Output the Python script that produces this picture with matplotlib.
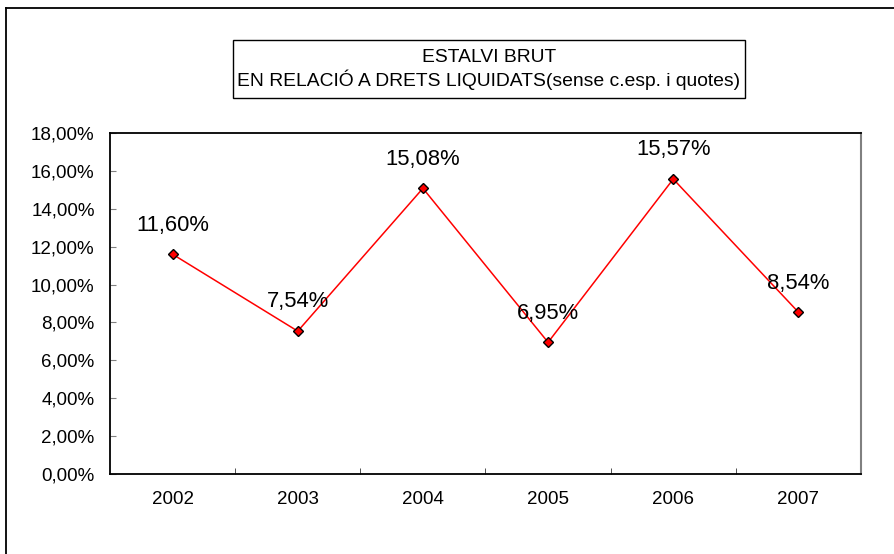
import matplotlib.pyplot as plt
from matplotlib.patches import Rectangle
from matplotlib.lines import Line2D
from matplotlib.ticker import FixedLocator, FuncFormatter

plt.rcParams['font.family'] = ['Liberation Sans', 'DejaVu Sans']

years = ['2002', '2003', '2004', '2005', '2006', '2007']
estalvi = [11.60, 7.54, 15.08, 6.95, 15.57, 8.54]
labels = ['11,60%', '7,54%', '15,08%', '6,95%', '15,57%', '8,54%']
y_ticks = [0, 2, 4, 6, 8, 10, 12, 14, 16, 18]

W, H = 895, 554
fig = plt.figure(figsize=(W / 100, H / 100), dpi=100)

# outer chart frame (cut off on the right and bottom)
fig.add_artist(Line2D([6.5 / W, 6.5 / W], [0, 1 - 8 / H], transform=fig.transFigure,
                      color='black', lw=1.3))
fig.add_artist(Line2D([6.5 / W, 1], [1 - 8 / H, 1 - 8 / H], transform=fig.transFigure,
                      color='black', lw=1.3))

ax = fig.add_axes([110 / W, 1 - 474 / H, 751 / W, 341 / H])
x = list(range(len(years)))
ax.plot(x, estalvi, color='red', lw=1.1, marker='D', markersize=5.6,
        markerfacecolor='red', markeredgecolor='black', markeredgewidth=1.0, zorder=3)

for xi, v, lab in zip(x, estalvi, labels):
    ax.annotate(lab, (xi, v), xytext=(0, 21), textcoords='offset points',
                ha='center', va='center', fontsize=15.8, color='black')

ax.set_xlim(-0.5, len(years) - 0.5)
ax.set_ylim(0, 18)
ax.set_xticks(x)
ax.set_xticklabels(years, fontsize=13.5)
ax.xaxis.set_minor_locator(FixedLocator([i + 0.5 for i in range(len(years) - 1)]))
ax.tick_params(axis='x', which='major', length=0, pad=12)
ax.tick_params(axis='x', which='minor', direction='in', length=4, color='#333333')

ax.set_yticks(y_ticks)
ax.yaxis.set_major_formatter(FuncFormatter(lambda v, p: f'{v:.2f}%'.replace('.', ',')))
ax.tick_params(axis='y', direction='in', length=4, color='#808080', labelsize=13.5, pad=11)

for s in ['left', 'top', 'bottom']:
    ax.spines[s].set_color('black')
    ax.spines[s].set_linewidth(1.3)
ax.spines['right'].set_color('#808080')
ax.spines['right'].set_linewidth(1.5)

# title box
fig.add_artist(Rectangle((233 / W, 1 - 98 / H), 512 / W, 58 / H, transform=fig.transFigure,
                         fill=False, edgecolor='black', lw=1.0))
fig.text(489 / W, 1 - 69.5 / H, 'ESTALVI BRUT\nEN RELACIÓ A DRETS LIQUIDATS(sense c.esp. i quotes)',
         ha='center', va='center', fontsize=13.9, linespacing=1.2, multialignment='center')

fig.savefig('out.png', dpi=100)
